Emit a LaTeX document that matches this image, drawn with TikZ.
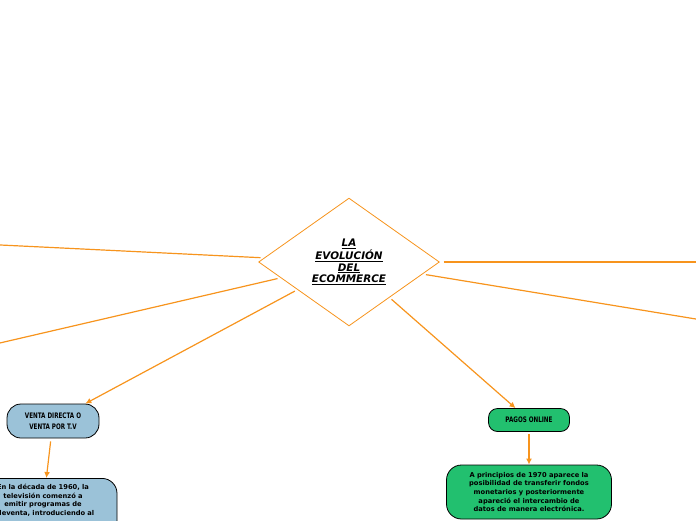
\documentclass[tikz,border=0pt]{standalone}
\usepackage{fontspec}
\setmainfont{DejaVu Sans}
\newfontfamily\rotulo{DejaVu Sans}[FakeStretch=0.74]
\usetikzlibrary{positioning, shapes.geometric, arrows.meta}
\definecolor{ramaNaranja}{HTML}{F7941D}
\definecolor{ventaAzul}{HTML}{9BC2D8}
\definecolor{pagoVerde}{HTML}{22C06F}

\begin{document}
\begin{tikzpicture}[x=1pt, y=-1pt,
  rama/.style={draw=ramaNaranja, line width=1.2pt},
  flecha/.style={rama, -{Latex[length=6pt, width=6pt]}},
  tema/.style={draw=black, line width=0.8pt, font=\rotulo\bfseries\fontsize{7.6}{11}\selectfont, align=center, inner sep=0pt},
  detalle/.style={draw=black, line width=0.8pt, rounded corners=15pt, font=\bfseries\fontsize{6.7}{8.6}\selectfont, align=center}]
  \useasboundingbox (0,0) rectangle (696,520);
  \clip (0,0) rectangle (696,520);
  % centro
  \node[diamond, draw=ramaNaranja, fill=white, line width=0.8pt, minimum width=183pt, minimum height=130pt, inner sep=0pt, outer sep=3pt, font=\bfseries\itshape\fontsize{10.4}{11.5}\selectfont, align=center] (centro) at (349,262) {\underline{LA}\\\underline{EVOLUCIÓN}\\\underline{DEL}\\\underline{ECOMMERCE}};
  % ramas fuera del lienzo
  \coordinate (izqA) at (-20,244);
  \coordinate (izqB) at (-20,347.6);
  \coordinate (derA) at (716,262);
  \coordinate (derB) at (716,322.3);
  % venta directa
  \node[tema, fill=ventaAzul, minimum width=92pt, minimum height=34pt, rounded corners=14pt] (venta) at (53,421) {VENTA DIRECTA O\\VENTA POR T.V};
  \node[detalle, fill=ventaAzul, text width=130pt, inner xsep=9pt, inner ysep=6pt, text depth=40pt, anchor=north] (ventatexto) at (43,478) {En la década de 1960, la\\televisión comenzó a\\emitir programas de\\televenta, introduciendo al};
  % pagos online
  \node[tema, fill=pagoVerde, minimum width=81pt, minimum height=23pt, rounded corners=9pt] (pagos) at (529,420) {PAGOS ONLINE};
  \node[detalle, fill=pagoVerde, minimum width=165pt, minimum height=54pt] (pagostexto) at (529,492) {A principios de 1970 aparece la\\posibilidad de transferir fondos\\monetarios y posteriormente\\apareció el intercambio de\\datos de manera electrónica.};
  % conectores
  \draw[rama] (centro) -- (izqA);
  \draw[rama] (centro) -- (izqB);
  \draw[rama] (centro) -- (derA);
  \draw[rama] (centro) -- (derB);
  \draw[flecha] (centro) -- (venta);
  \draw[flecha] (centro) -- (pagos);
  \draw[flecha, shorten <=3pt] (venta) -- (ventatexto);
  \draw[flecha, shorten <=2pt] (pagos) -- (pagostexto);
\end{tikzpicture}
\end{document}
